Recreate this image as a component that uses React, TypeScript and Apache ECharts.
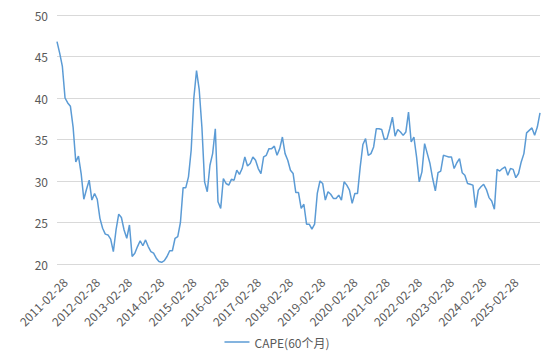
import React, { useEffect, useRef } from "react";
import * as echarts from "echarts";

const startYear = 2011;
const startMonth = 2;
const lastLabelIndex = 168;

const capeValues: number[] = [
  46.8, 45.4, 43.8, 40.0, 39.4, 39.0, 36.5, 32.3, 33.0, 30.9,
  27.8, 29.0, 30.1, 27.7, 28.5, 27.8, 25.5, 24.3, 23.6, 23.5,
  23.0, 21.5, 24.1, 26.0, 25.6, 24.1, 23.1, 24.7, 20.9, 21.3,
  22.1, 22.8, 22.2, 22.9, 22.1, 21.5, 21.3, 20.7, 20.3, 20.2,
  20.4, 20.9, 21.6, 21.6, 23.1, 23.3, 25.0, 29.2, 29.2, 30.5,
  33.7, 40.0, 43.3, 41.0, 36.5, 29.9, 28.7, 31.9, 33.3, 36.3,
  27.5, 26.7, 30.3, 29.7, 29.5, 30.2, 30.1, 31.3, 30.8, 31.5,
  32.9, 31.8, 32.1, 32.9, 32.5, 31.5, 30.9, 32.9, 33.1, 33.9,
  33.9, 34.2, 33.1, 33.9, 35.3, 33.3, 32.5, 31.3, 30.9, 28.6,
  28.6, 26.7, 27.2, 24.8, 24.8, 24.2, 24.8, 28.5, 30.0, 29.7,
  27.7, 28.7, 28.4, 27.9, 27.9, 28.3, 27.7, 29.9, 29.5, 28.9,
  27.3, 28.5, 28.5, 31.7, 34.4, 35.1, 33.1, 33.3, 34.1, 36.3,
  36.3, 36.2, 35.0, 35.1, 36.3, 37.7, 35.4, 36.2, 35.9, 35.5,
  35.9, 38.3, 34.7, 35.3, 32.9, 29.9, 31.1, 34.5, 33.3, 32.1,
  30.3, 28.8, 31.0, 31.2, 33.1, 33.0, 32.9, 32.9, 31.5, 32.2,
  32.7, 31.0, 30.7, 29.7, 29.6, 29.5, 26.8, 28.9, 29.3, 29.6,
  29.0, 28.0, 27.6, 26.6, 31.4, 31.2, 31.5, 31.7, 30.7, 31.5,
  31.4, 30.4, 30.9, 32.3, 33.3, 35.8, 36.1, 36.4, 35.5, 36.5,
  38.2,
];

// monthly category labels (dates on the 28th of each month)
const categories: string[] = capeValues.map((_, i) => {
  const m0 = startMonth - 1 + i;
  const y = startYear + Math.floor(m0 / 12);
  const m = (m0 % 12) + 1;
  return `${y}-${String(m).padStart(2, "0")}-28`;
});

const yTicks = { min: 20, max: 50, interval: 5 };
const seriesName = "CAPE(60个月)";

export default function App() {
  const ref = useRef<HTMLDivElement>(null);
  useEffect(() => {
    if (!ref.current) return;
    const chart = echarts.init(ref.current, undefined, { renderer: "svg" });
    const font = "'Noto Sans CJK SC', 'Noto Sans', sans-serif";
    chart.setOption({
      animation: false,
      textStyle: { fontFamily: font },
      grid: { left: 57, right: 14, top: 15, bottom: 100 },
      legend: {
        data: [{ name: seriesName, icon: "path://M0,0 L25,0 L25,1.5 L0,1.5 Z" }],
        left: "center",
        top: 331,
        itemWidth: 25,
        itemHeight: 2,
        itemGap: 10,
        textStyle: { color: "#595959", fontSize: 12, fontFamily: font },
      },
      xAxis: {
        type: "category",
        data: categories,
        boundaryGap: false,
        axisLine: { show: false },
        axisTick: { show: false },
        axisLabel: {
          interval: 11,
          formatter: (value: string, idx: number) => (idx <= lastLabelIndex ? value : ""),
          rotate: 45,
          margin: 8,
          align: "right",
          verticalAlign: "top",
          lineHeight: 22,
          color: "#595959",
          fontSize: 12,
          fontFamily: font,
        },
        splitLine: { show: false },
      },
      yAxis: {
        type: "value",
        min: yTicks.min,
        max: yTicks.max,
        interval: yTicks.interval,
        axisLine: { show: false },
        axisTick: { show: false },
        axisLabel: { color: "#595959", fontSize: 12, margin: 9, fontFamily: font },
        splitLine: { lineStyle: { color: "#d9d9d9", width: 1 } },
      },
      series: [
        {
          name: seriesName,
          type: "line",
          data: capeValues,
          symbol: "none",
          showSymbol: false,
          lineStyle: { color: "#5b9bd5", width: 1.5 },
          itemStyle: { color: "#5b9bd5" },
        },
      ],
    });
    return () => chart.dispose();
  }, []);
  return (
    <div
      ref={ref}
      style={{ position: "absolute", left: 0, top: 0, width: 554, height: 364, background: "#fff" }}
    />
  );
}
